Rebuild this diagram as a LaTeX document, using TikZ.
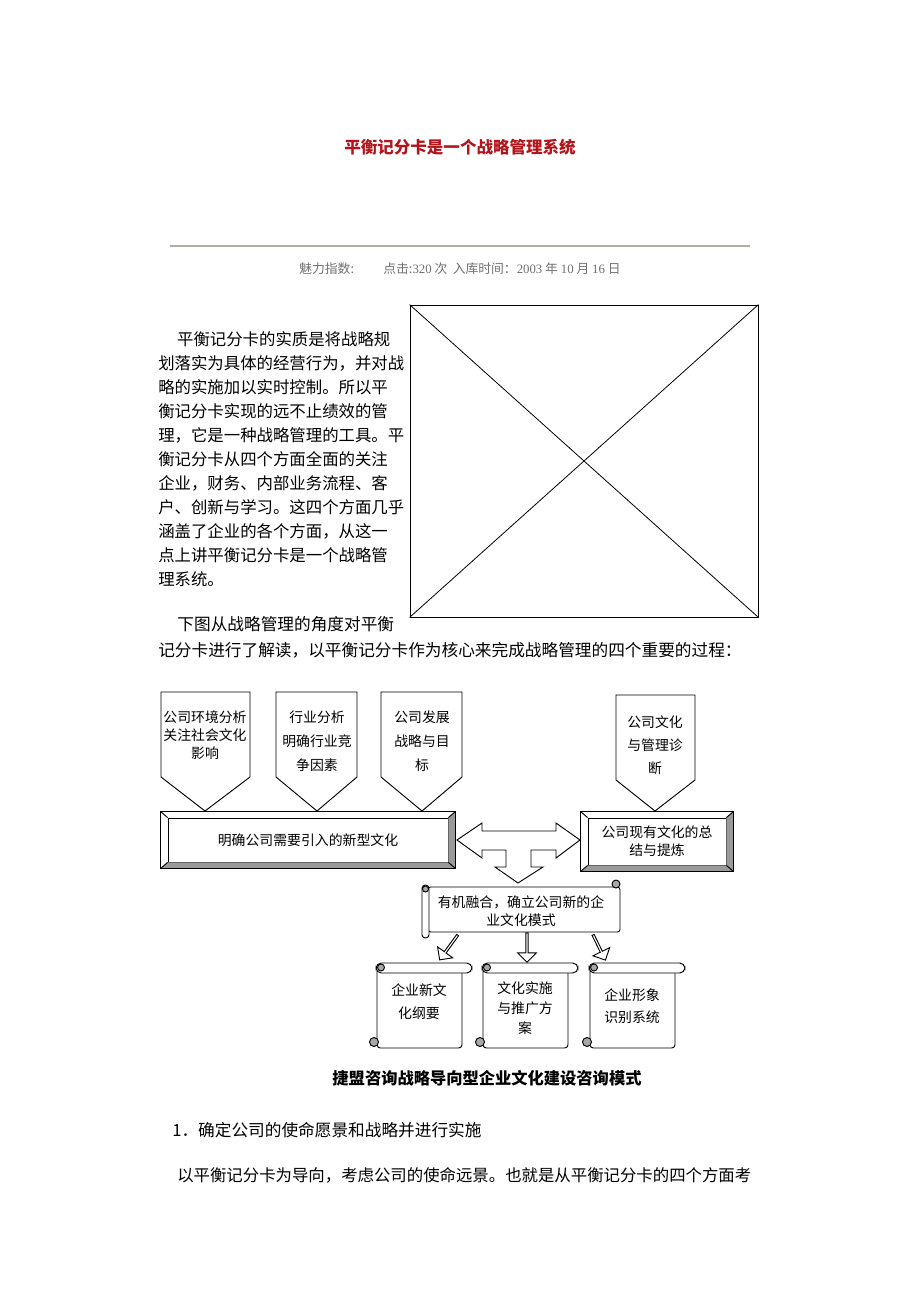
\documentclass[tikz,border=0pt]{standalone}
\usepackage{fontspec}
\setmainfont{Noto Sans CJK SC}
\newfontfamily\latinfont{Liberation Serif}
\usetikzlibrary{shapes.arrows}

\definecolor{titlered}{HTML}{B2161C}
\definecolor{metagray}{HTML}{707070}
\definecolor{rulegray}{HTML}{B3AEA4}
\definecolor{bevelgray}{HTML}{9A9A9A}
\definecolor{curlgray}{HTML}{A8A8A8}

\tikzset{
  frame/.style={draw=black, line width=0.7pt},
  para/.style={inner sep=0pt, align=left, font=\fontsize{12.5}{18}\selectfont},
  boxtext/.style={inner sep=0pt, align=center, font=\fontsize{10.4}{13.5}\selectfont},
  smallarrow/.style={frame, fill=white, single arrow, inner sep=0pt, minimum width=14pt, single arrow head extend=2.5pt},
}

% grey bevel round a box node
\newcommand\bevelframe[1]{%
  \path (#1.north west) ++(-7,-6) coordinate (#1nw)
        (#1.south east) ++(7,6) coordinate (#1se);
  \fill[bevelgray] (#1se) -- (#1se |- #1nw) -- (#1.north east) -- (#1.south east)
    -- (#1.south west) -- (#1nw |- #1se) -- cycle;
  \draw[frame] (#1nw) rectangle (#1se);
  \draw[frame] (#1nw) -- (#1.north west) (#1se |- #1nw) -- (#1.north east)
    (#1se) -- (#1.south east) (#1nw |- #1se) -- (#1.south west);
}

% upright scroll: left, body right, roll right
\newcommand\vscroll[3]{%
  \draw[frame, fill=white, rounded corners=2.5pt] (#1,968) -- (#1,1048) -- (#2,1048) -- (#2,968);
  \draw[frame, fill=white, rounded corners=4pt] (#1-1,963) rectangle (#3,973);
  \draw[frame, fill=curlgray] (#1+4,967.5) circle[radius=3.5];
  \draw[frame, fill=curlgray] (#1-3,1042) circle[radius=4.5];
}

\begin{document}
\begin{tikzpicture}[x=0.75pt,y=-0.75pt]
\useasboundingbox (0,0) rectangle (920,1302);

% heading
\node[inner sep=0pt, anchor=base, text=titlered, font=\fontsize{12.4}{14}\selectfont\bfseries] (title) at (460,154) {平衡记分卡是一个战略管理系统};
\draw[rulegray, line width=2.2pt] (170,246) -- (750,246);
\node[inner sep=0pt, anchor=base, text=metagray, font=\fontsize{9.6}{11}\selectfont] (meta) at (460,273)
  {魅力指数:\hspace{22pt}点击:{\latinfont 320} 次\hspace{4pt}入库时间：{\latinfont 2003} 年 {\latinfont 10} 月 {\latinfont 16} 日};

% text and picture (base = last line)
\node[para, anchor=base west, font=\fontsize{12.3}{18}\selectfont] (essence) at (158,585) {\hspace*{1.15em}平衡记分卡的实质是将战略规\\
划落实为具体的经营行为，并对战\\
略的实施加以实时控制。所以平\\
衡记分卡实现的远不止绩效的管\\
理，它是一种战略管理的工具。平\\
衡记分卡从四个方面全面的关注\\
企业，财务、内部业务流程、客\\
户、创新与学习。这四个方面几乎\\
涵盖了企业的各个方面，从这一\\
点上讲平衡记分卡是一个战略管\\
理系统。};
\node[frame, line width=0.6pt, minimum width=261pt, minimum height=234pt, inner sep=0pt] (photo) at (584,461) {};
\draw[line width=0.6pt] (photo.north west) -- (photo.south east) (photo.north east) -- (photo.south west);
\node[para, anchor=base west, font=\fontsize{12.5}{19.5}\selectfont] (reading) at (158,656)
  {\hspace*{1.15em}下图从战略管理的角度对平衡\\记分卡进行了解读，以平衡记分卡作为核心来完成战略管理的四个重要的过程：};

% top pointers
\draw[frame, fill=white] (161,692) -- (250,692) -- (250,777) -- (205,811) -- (161,777) -- cycle;
\node[boxtext] (environment) at (205,735) {公司环境分析\\关注社会文化\\影响};
\draw[frame, fill=white] (276,692) -- (357,692) -- (357,777) -- (317,811) -- (276,777) -- cycle;
\node[boxtext, font=\fontsize{10.4}{18}\selectfont] (industry) at (317,741) {行业分析\\明确行业竞\\争因素};
\draw[frame, fill=white] (381,692) -- (462,692) -- (462,777) -- (422,811) -- (381,777) -- cycle;
\node[boxtext, font=\fontsize{10.4}{18}\selectfont] (strategy) at (422,741) {公司发展\\战略与目\\标};
\draw[frame, fill=white] (616,695) -- (695,695) -- (695,780) -- (655,811) -- (616,780) -- cycle;
\node[boxtext, font=\fontsize{10.4}{17.3}\selectfont] (diagnosis) at (655,745) {公司文化\\与管理诊\\断};

% bevelled bars
\node[frame, fill=white, boxtext, minimum width=210pt, minimum height=33pt] (newculture) at (308,840) {明确公司需要引入的新型文化};
\bevelframe{newculture}
\node[frame, fill=white, boxtext, minimum width=103.5pt, minimum height=35.25pt] (present) at (657,841.5) {公司现有文化的总\\结与提炼};
\bevelframe{present}

% three way arrow
\draw[frame, fill=white] (457,840) -- (482,823) -- (482,831) -- (556,831) -- (556,823) -- (580,840)
  -- (556,858) -- (556,850) -- (531,850) -- (531,867) -- (543,867) -- (518,883) -- (495,867)
  -- (506,867) -- (506,850) -- (482,850) -- (482,858) -- cycle;

% merging scroll
\draw[frame, fill=white, rounded corners=2pt] (428,887) -- (620,887) -- (620,932) -- (428,932) -- cycle;
\draw[frame, fill=curlgray] (616,884) circle[radius=4];
\draw[frame, fill=white, rounded corners=2.5pt] (422,885) rectangle (429,938);
\draw[frame, fill=curlgray] (425.5,889) circle[radius=3];
\node[boxtext, font=\fontsize{10.4}{13.5}\selectfont] (fusion) at (521,911) {有机融合，确立公司新的企\\业文化模式};

% small arrows
\node[smallarrow, minimum height=23pt, rotate=-126] (toleft) at (449,947) {};
\node[smallarrow, minimum height=22pt, rotate=-90] (todown) at (527,947) {};
\node[smallarrow, minimum height=21pt, rotate=-64] (toright) at (599,947) {};

% result scrolls
\vscroll{377}{462}{472}
\node[boxtext, font=\fontsize{10.4}{17.25}\selectfont] (outline) at (419,1001.5) {企业新文\\化纲要};
\vscroll{483}{568}{578}
\node[boxtext, font=\fontsize{10.4}{15}\selectfont] (promotion) at (525,1008) {文化实施\\与推广方\\案};
\vscroll{590}{675}{685}
\node[boxtext, font=\fontsize{10.4}{16.5}\selectfont] (identity) at (632,1006) {企业形象\\识别系统};

\node[inner sep=0pt, font=\fontsize{12.2}{14}\selectfont\bfseries] (caption) at (487,1078) {捷盟咨询战略导向型企业文化建设咨询模式};

% following text
\node[para, anchor=base west] (step) at (172,1136) {1．确定公司的使命愿景和战略并进行实施};
\node[para, anchor=base west, font=\fontsize{12.3}{18}\selectfont] (guide) at (177,1181) {以平衡记分卡为导向，考虑公司的使命远景。也就是从平衡记分卡的四个方面考};
\end{tikzpicture}
\end{document}
